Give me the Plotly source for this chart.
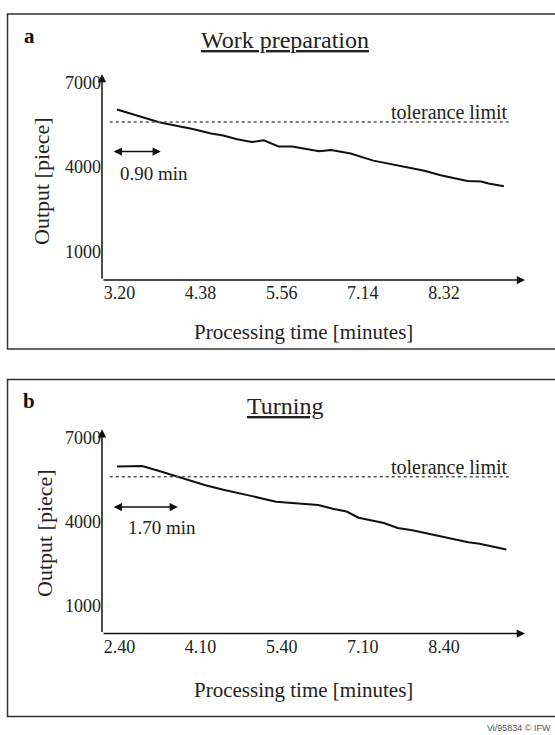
import plotly.graph_objects as go

# ---------------- data ----------------
TICK_LABELS_A = ["3.20", "4.38", "5.56", "7.14", "8.32"]
TICK_LABELS_B = ["2.40", "4.10", "5.40", "7.10", "8.40"]
TICK_POS = [0, 1, 2, 3, 4]
Y_TICKS = [1000, 4000, 7000]

# x in tick-interval units along the drawn time axis
x_a = [-0.03, 0.49, 0.76, 0.89, 1.13, 1.28, 1.45, 1.63, 1.78, 1.96, 2.13, 2.30,
       2.46, 2.61, 2.85, 3.13, 3.46, 3.76, 3.96, 4.29, 4.46, 4.55, 4.74]
y_a = [6040, 5590, 5430, 5360, 5190, 5120, 4990, 4890, 4950, 4730, 4730, 4630,
       4560, 4610, 4480, 4230, 4040, 3870, 3710, 3510, 3490, 3420, 3320]

x_b = [-0.03, 0.28, 0.47, 0.71, 0.88, 1.06, 1.28, 1.45, 1.62, 1.93, 2.15, 2.45,
       2.63, 2.80, 2.95, 3.11, 3.26, 3.43, 3.61, 4.30, 4.44, 4.77]
y_b = [5970, 5990, 5830, 5610, 5440, 5300, 5140, 5020, 4920, 4710, 4660, 4590,
       4460, 4360, 4140, 4040, 3950, 3770, 3690, 3260, 3210, 3000]

TOLERANCE = 5600
TOL_X = [-0.12, 4.82]
GAP_A = [-0.09, 0.51]   # "0.90 min" span
GAP_B = [-0.09, 0.72]   # "1.70 min" span
GAP_LABEL_A = "0.90 min"
GAP_LABEL_B = "1.70 min"

X_RANGE = [-0.2155, 5.0]
Y_RANGE = [0, 7300]

W, H = 555, 735
SERIF = "Liberation Serif, Times New Roman, serif"
TXT = "#222222"


def px(x):
    return x / W


def py(y):
    return 1 - y / H


fig = go.Figure()

panels = [
    dict(xa="x", ya="y", xs=x_a, ys=y_a, ticks=TICK_LABELS_A, gap=GAP_A,
         gap_label=GAP_LABEL_A, gap_y=4550, gap_text_y=3790, gap_text_x=0.42,
         dom=[py(280), py(74)], letter="a", title="Work preparation",
         title_y=40, letter_y=36, ylab_x=41, ylab_y=181, xlab_y=332,
         box=[7.5, 14, 349]),
    dict(xa="x2", ya="y2", xs=x_b, ys=y_b, ticks=TICK_LABELS_B, gap=GAP_B,
         gap_label=GAP_LABEL_B, gap_y=4520, gap_text_y=3780, gap_text_x=0.52,
         dom=[py(633.5), py(429.3)], letter="b", title="Turning",
         title_y=406, letter_y=401, ylab_x=44, ylab_y=533, xlab_y=690,
         box=[7.5, 379.5, 716.5]),
]

annotations = []
shapes = []
for i, p in enumerate(panels):
    # data line
    fig.add_trace(go.Scatter(x=p["xs"], y=p["ys"], mode="lines",
                             line=dict(color="#111111", width=2),
                             xaxis=p["xa"], yaxis=p["ya"], showlegend=False,
                             hoverinfo="skip"))
    # tolerance line
    fig.add_trace(go.Scatter(x=TOL_X, y=[TOLERANCE, TOLERANCE], mode="lines",
                             line=dict(color="#555555", width=1.5, dash="dot"),
                             xaxis=p["xa"], yaxis=p["ya"], showlegend=False,
                             hoverinfo="skip"))
    xr, yr = p["xa"], p["ya"]
    # axis arrows
    annotations.append(dict(x=X_RANGE[0], y=Y_RANGE[1], ax=X_RANGE[0], ay=0,
                            xref=xr, yref=yr, axref=xr, ayref=yr, text="",
                            showarrow=True, arrowhead=2, arrowsize=1.1,
                            arrowwidth=1.5, arrowcolor="#111111"))
    annotations.append(dict(x=X_RANGE[1], y=0, ax=X_RANGE[0], ay=0,
                            xref=xr, yref=yr, axref=xr, ayref=yr, text="",
                            showarrow=True, arrowhead=2, arrowsize=1.1,
                            arrowwidth=1.5, arrowcolor="#111111"))
    # double arrow for time gap
    annotations.append(dict(x=p["gap"][1], y=p["gap_y"], ax=p["gap"][0], ay=p["gap_y"],
                            xref=xr, yref=yr, axref=xr, ayref=yr, text="",
                            showarrow=True, arrowhead=2, startarrowhead=2,
                            arrowside="end+start", arrowsize=1.1,
                            arrowwidth=1.5, arrowcolor="#111111"))
    annotations.append(dict(x=p["gap_text_x"], y=p["gap_text_y"], xref=xr, yref=yr,
                            text=p["gap_label"], showarrow=False,
                            xanchor="center", yanchor="middle",
                            font=dict(family=SERIF, size=19, color=TXT)))
    # tolerance label
    annotations.append(dict(x=TOL_X[1], y=TOLERANCE, xref=xr, yref=yr,
                            text="tolerance limit", showarrow=False,
                            xanchor="right", yanchor="bottom", yshift=-3,
                            font=dict(family=SERIF, size=20, color=TXT)))
    # titles & labels
    annotations.append(dict(x=px(285), y=py(p["title_y"]), xref="paper", yref="paper",
                            text="<u>" + p["title"] + "</u>", showarrow=False,
                            xanchor="center", yanchor="middle",
                            font=dict(family=SERIF, size=24, color=TXT)))
    annotations.append(dict(x=px(29), y=py(p["letter_y"]), xref="paper", yref="paper",
                            text="<b>" + p["letter"] + "</b>", showarrow=False,
                            xanchor="center", yanchor="middle",
                            font=dict(family=SERIF, size=21, color="#111111")))
    annotations.append(dict(x=px(p["ylab_x"]), y=py(p["ylab_y"]), xref="paper",
                            yref="paper", text="Output [piece]", textangle=-90,
                            showarrow=False, xanchor="center", yanchor="middle",
                            font=dict(family=SERIF, size=22, color=TXT)))
    annotations.append(dict(x=px(303), y=py(p["xlab_y"]), xref="paper", yref="paper",
                            text="Processing time [minutes]", showarrow=False,
                            xanchor="center", yanchor="middle",
                            font=dict(family=SERIF, size=21, color=TXT)))
    # panel frame
    x0, y0, y1 = p["box"]
    shapes.append(dict(type="rect", xref="paper", yref="paper",
                       x0=px(x0), x1=px(W + 20), y0=py(y1), y1=py(y0),
                       line=dict(color="#333333", width=1.5)))

annotations.append(dict(x=px(553), y=py(728), xref="paper", yref="paper",
                        text="Vi/95834 © IFW", showarrow=False, xanchor="right",
                        yanchor="middle",
                        font=dict(family="Liberation Sans, Arial, sans-serif",
                                  size=9, color="#555555")))

axis_common = dict(range=X_RANGE, showgrid=False, zeroline=False, showline=False,
                   ticks="", tickmode="array", tickvals=TICK_POS,
                   tickfont=dict(family=SERIF, size=18, color=TXT),
                   automargin=False, fixedrange=True)
yaxis_common = dict(range=Y_RANGE, showgrid=False, zeroline=False, showline=False,
                    ticks="", tickmode="array", tickvals=Y_TICKS,
                    tickfont=dict(family=SERIF, size=18, color=TXT),
                    automargin=False, fixedrange=True)

x_dom = [px(102), px(525)]
fig.update_layout(
    width=W, height=H,
    margin=dict(l=0, r=0, t=0, b=0),
    paper_bgcolor="white", plot_bgcolor="white",
    xaxis=dict(axis_common, domain=x_dom, anchor="y", ticktext=TICK_LABELS_A),
    yaxis=dict(yaxis_common, domain=panels[0]["dom"], anchor="x"),
    xaxis2=dict(axis_common, domain=x_dom, anchor="y2", ticktext=TICK_LABELS_B),
    yaxis2=dict(yaxis_common, domain=panels[1]["dom"], anchor="x2"),
    annotations=annotations,
    shapes=shapes,
    showlegend=False,
)

fig.write_html("out.html",
               config={"displayModeBar": False},
               post_script="document.body.style.margin='0';"
                           "document.body.style.overflow='hidden';")
